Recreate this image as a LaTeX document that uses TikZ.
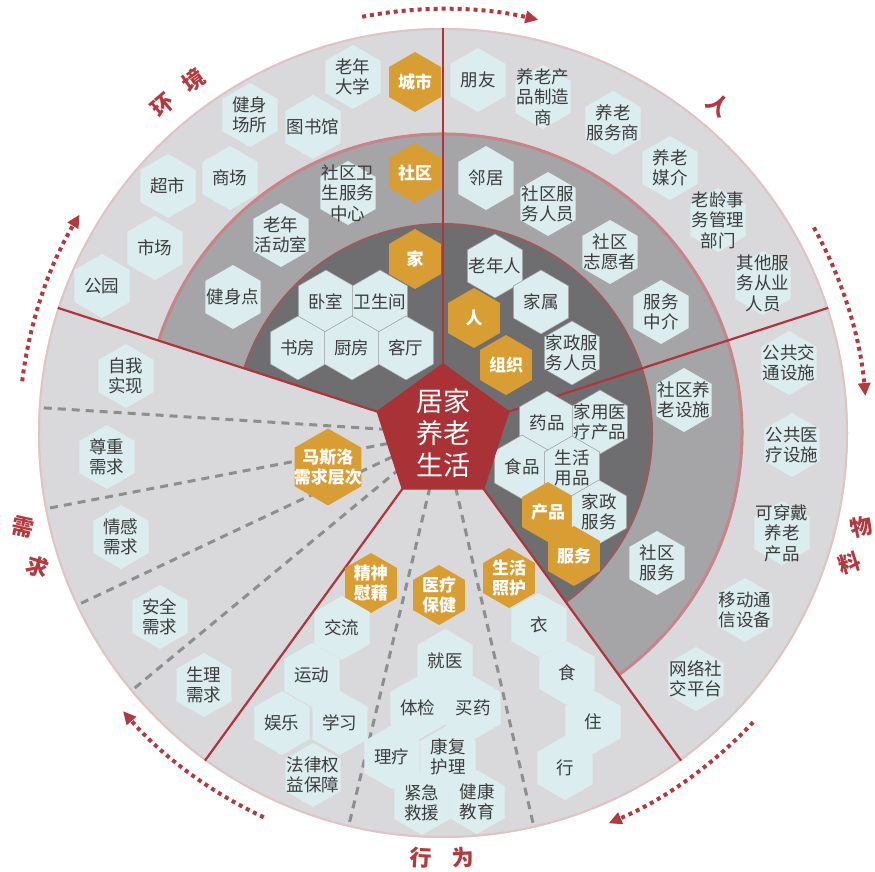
\documentclass[tikz,border=0pt]{standalone}
\usepackage{fontspec}
\setmainfont{Noto Sans CJK SC}
\usetikzlibrary{shapes.geometric}
\usetikzlibrary{arrows.meta}
\definecolor{ringlight}{HTML}{D9D9DB}
\definecolor{ringmid}{HTML}{A5A5A7}
\definecolor{ringdark}{HTML}{6E6E71}
\definecolor{hexblue}{HTML}{DCEDEF}
\definecolor{gold}{HTML}{D99E33}
\definecolor{corered}{HTML}{A83236}
\definecolor{linered}{HTML}{B0343A}
\definecolor{rimpink}{HTML}{E2C3C5}
\definecolor{midrim}{HTML}{C98488}
\definecolor{darkrim}{HTML}{9C5A5D}
\definecolor{dashgray}{HTML}{8E8E8E}
\definecolor{textgray}{HTML}{3C3C3C}
\definecolor{labelred}{HTML}{B23A3E}

\tikzset{
  hexcell/.style={regular polygon, regular polygon sides=6, shape border rotate=30,
    minimum size=64pt, inner sep=0pt, fill=hexblue},
  hexgold/.style={regular polygon, regular polygon sides=6, shape border rotate=30,
    minimum size=60pt, inner sep=0pt, fill=gold},
  hexedge/.style={draw=black!40, line width=0.5pt},
  hextext/.style={align=center, inner sep=0pt, text=textgray, font=\fontsize{17.5}{20.5}\selectfont},
  goldtext/.style={align=center, inner sep=0pt, text=white, font=\fontsize{17}{20.5}\selectfont\bfseries},
  coretext/.style={align=center, inner sep=0pt, text=white, font=\fontsize{27}{32}\selectfont},
  sectorlabel/.style={inner sep=0pt, text=labelred, font=\fontsize{22}{22}\selectfont\bfseries},
  divider/.style={draw=linered, line width=2.2pt},
  needdash/.style={draw=dashgray, line width=3pt, dash pattern=on 8pt off 6pt},
  flowarc/.style={draw=labelred, line width=4pt, dash pattern=on 4pt off 4pt,
    -{Triangle[length=13pt, width=12pt]}}
}

\begin{document}
\begin{tikzpicture}[x=1pt, y=1pt]
\useasboundingbox (-443,-439) rectangle (432,433);
\coordinate (hub) at (0,0);

% rings
\fill[ringlight] (hub) circle (405);
\draw[rimpink, line width=2pt] (hub) circle (404);
\fill[ringmid] (hub) -- (-54:299) arc[start angle=-54, end angle=162, radius=299] -- cycle;
\draw[midrim, line width=3pt] (-54:299) arc[start angle=-54, end angle=162, radius=299];
\fill[ringdark] (hub) -- (-54:209) arc[start angle=-54, end angle=162, radius=209] -- cycle;
\draw[darkrim, line width=2pt] (-54:209) arc[start angle=-54, end angle=162, radius=209];

% dashed sub-dividers
\draw[needdash] (hub) -- (176.4:403);
\draw[needdash] (hub) -- (190.8:403);
\draw[needdash] (hub) -- (205.2:403);
\draw[needdash] (hub) -- (219.6:403);
\draw[needdash] (hub) -- (-103.5:403);
\draw[needdash] (hub) -- (-77:403);

% sector borders
\draw[divider] (hub) -- (90:405);
\draw[divider] (hub) -- (162:405);
\draw[divider] (hub) -- (18:405);
\draw[divider] (hub) -- (-54:405);
\draw[divider] (hub) -- (-126:405);

% environment
\node[hexcell, label={[hextext]center:老年\\大学}] (daxue) at (-90,356) {};
\node[hexgold, label={[goldtext]center:城市}] (chengshi) at (-28,351) {};
\node[hexcell, label={[hextext]center:健身\\场所}] (changsuo) at (-193,318) {};
\node[hexcell, label={[hextext]center:图书馆}] (tushuguan) at (-130,306) {};
\node[hexcell, label={[hextext]center:超市}] (chaoshi) at (-275,247) {};
\node[hexcell, label={[hextext]center:商场}] (shangchang) at (-213,255) {};
\node[hexgold, label={[goldtext]center:社区}] (shequ) at (-28,260) {};
\node[hexcell, label={[hextext]center:社区卫\\生服务\\中心}] (sqweisheng) at (-95,240) {};
\node[hexcell, label={[hextext]center:市场}] (shichang) at (-288,185) {};
\node[hexcell, label={[hextext]center:老年\\活动室}] (huodong) at (-162,198) {};
\node[hexgold, label={[goldtext]center:家}] (jia) at (-28,174) {};
\node[hexcell, label={[hextext]center:公园}] (gongyuan) at (-341,147) {};
\node[hexcell, label={[hextext]center:健身点}] (jianshendian) at (-210,136) {};
\node[hexcell, hexedge, label={[hextext]center:卧室}] (woshi) at (-117,131) {};
\node[hexcell, hexedge, label={[hextext]center:卫生间}] (weishengjian) at (-63,131) {};
\node[hexcell, hexedge, label={[hextext]center:书房}] (shufang) at (-145,85) {};
\node[hexcell, hexedge, label={[hextext]center:厨房}] (chufang) at (-91,85) {};
\node[hexcell, hexedge, label={[hextext]center:客厅}] (keting) at (-37,85) {};

% people
\node[hexcell, label={[hextext]center:朋友}] (pengyou) at (35,353) {};
\node[hexcell, label={[hextext]center:养老产\\品制造\\商}] (zhizao) at (100,336) {};
\node[hexcell, label={[hextext]center:养老\\服务商}] (fuwushang) at (170,310) {};
\node[hexcell, label={[hextext]center:养老\\媒介}] (meijie) at (227,265) {};
\node[hexcell, label={[hextext]center:老龄事\\务管理\\部门}] (guanli) at (275,213) {};
\node[hexcell, label={[hextext]center:其他服\\务从业\\人员}] (congye) at (320,150) {};
\node[hexcell, label={[hextext]center:邻居}] (linju) at (43,255) {};
\node[hexcell, label={[hextext]center:社区服\\务人员}] (sqrenyuan) at (105,229) {};
\node[hexcell, label={[hextext]center:社区\\志愿者}] (zhiyuan) at (167,181) {};
\node[hexcell, label={[hextext]center:服务\\中介}] (zhongjie) at (218,121) {};
\node[hexcell, hexedge, label={[hextext]center:老年人}] (laonian) at (52,167) {};
\node[hexcell, hexedge, label={[hextext]center:家属}] (jiashu) at (98,131) {};
\node[hexgold, label={[goldtext]center:人}] (ren) at (31,115) {};
\node[hexgold, label={[goldtext]center:组织}] (zuzhi) at (63,68) {};
\node[hexcell, hexedge, label={[hextext]center:家政服\\务人员}] (jiazheng) at (129,80) {};

% materials
\node[hexcell, label={[hextext]center:公共交\\通设施}] (jiaotong) at (346,70) {};
\node[hexcell, label={[hextext]center:社区养\\老设施}] (sheshi) at (241,33) {};
\node[hexcell, hexedge, label={[hextext]center:药品}] (yaopin) at (104,10) {};
\node[hexcell, hexedge, label={[hextext]center:家用医\\疗产品}] (yiliao) at (157,11) {};
\node[hexcell, label={[hextext]center:公共医\\疗设施}] (gongyi) at (349,-12) {};
\node[hexcell, hexedge, label={[hextext]center:食品}] (shipin) at (79,-34) {};
\node[hexcell, hexedge, label={[hextext]center:生活\\用品}] (yongpin) at (129,-35) {};
\node[hexgold, label={[goldtext]center:产品}] (chanpin) at (105,-79) {};
\node[hexcell, hexedge, label={[hextext]center:家政\\服务}] (jzfuwu) at (156,-79) {};
\node[hexgold, label={[goldtext]center:服务}] (fuwu) at (131,-123) {};
\node[hexcell, label={[hextext]center:可穿戴\\养老\\产品}] (chuandai) at (339,-100) {};
\node[hexcell, label={[hextext]center:社区\\服务}] (sqfuwu) at (214,-130) {};
\node[hexcell, label={[hextext]center:移动通\\信设备}] (tongxin) at (302,-177) {};
\node[hexcell, label={[hextext]center:网络社\\交平台}] (shejiao) at (253,-246) {};

% behaviour
\node[hexgold, label={[goldtext]center:生活\\照护}] (zhaohu) at (66,-145) {};
\node[hexcell, label={[hextext]center:衣}] (yi) at (96,-192) {};
\node[hexcell, label={[hextext]center:食}] (shi) at (124,-240) {};
\node[hexcell, label={[hextext]center:住}] (zhu) at (150,-289) {};
\node[hexcell, label={[hextext]center:行}] (xing) at (122,-335) {};
\node[hexgold, label={[goldtext]center:医疗\\保健}] (baojian) at (-4,-162) {};
\node[hexcell, label={[hextext]center:就医}] (jiuyi) at (2,-228) {};
\node[hexcell, label={[hextext]center:体检}] (tijian) at (-25,-275) {};
\node[hexcell, label={[hextext]center:买药}] (maiyao) at (30,-275) {};
\node[hexcell, label={[hextext]center:理疗}] (liliao) at (-51,-324) {};
\node[hexcell, label={[hextext]center:康复\\护理}] (kangfu) at (5,-324) {};
\node[hexcell, label={[hextext]center:紧急\\救援}] (jiuyuan) at (-21,-370) {};
\node[hexcell, label={[hextext]center:健康\\教育}] (jiaoyu) at (34,-369) {};
\node[hexgold, label={[goldtext]center:精神\\慰藉}] (weiji) at (-72,-150) {};
\node[hexcell, label={[hextext]center:交流}] (jiaoliu) at (-101,-195) {};
\node[hexcell, label={[hextext]center:运动}] (yundong) at (-131,-242) {};
\node[hexcell, label={[hextext]center:娱乐}] (yule) at (-161,-290) {};
\node[hexcell, label={[hextext]center:学习}] (xuexi) at (-103,-290) {};
\node[hexcell, label={[hextext]center:法律权\\益保障}] (falv) at (-130,-342) {};

% needs
\node[hexcell, label={[hextext]center:自我\\实现}] (ziwo) at (-317,57) {};
\node[hexcell, label={[hextext]center:尊重\\需求}] (zunzhong) at (-336,-24) {};
\node[hexgold, minimum size=77pt, label={[goldtext]center:马斯洛\\需求层次}] (maslow) at (-115,-34) {};
\node[hexcell, label={[hextext]center:情感\\需求}] (qinggan) at (-322,-104) {};
\node[hexcell, label={[hextext]center:安全\\需求}] (anquan) at (-283,-184) {};
\node[hexcell, label={[hextext]center:生理\\需求}] (shengli) at (-239,-252) {};

% core
\node[regular polygon, regular polygon sides=5, minimum size=140pt, inner sep=0pt, fill=corered,
  label={[coretext]center:居家\\养老\\生活}] (core) at (hub) {};

% sector names
\node[sectorlabel, rotate=40.5] (lab-huan) at (130.5:431) {环};
\node[sectorlabel, rotate=35.3] (lab-jing) at (125.3:432) {境};
\node[sectorlabel, rotate=-40] (lab-ren) at (50:428) {人};
\node[sectorlabel, rotate=12.6] (lab-wu) at (-12.6:429) {物};
\node[sectorlabel, rotate=17.7] (lab-liao) at (-17.7:427) {料};
\node[sectorlabel, rotate=-3] (lab-xing) at (-93:425) {行};
\node[sectorlabel, rotate=3] (lab-wei) at (-87.3:425) {为};
\node[sectorlabel, rotate=-12.6] (lab-xu) at (192.6:430) {需};
\node[sectorlabel, rotate=-18] (lab-qiu) at (198.3:427) {求};

% flow arrows
\draw[flowarc] (101:424) arc[start angle=101, end angle=77, radius=424];
\draw[flowarc] (29:424) arc[start angle=29, end angle=5, radius=424];
\draw[flowarc] (-43:424) arc[start angle=-43, end angle=-67, radius=424];
\draw[flowarc] (-115:424) arc[start angle=-115, end angle=-139, radius=424];
\draw[flowarc] (173:424) arc[start angle=173, end angle=149, radius=424];
\end{tikzpicture}
\end{document}
